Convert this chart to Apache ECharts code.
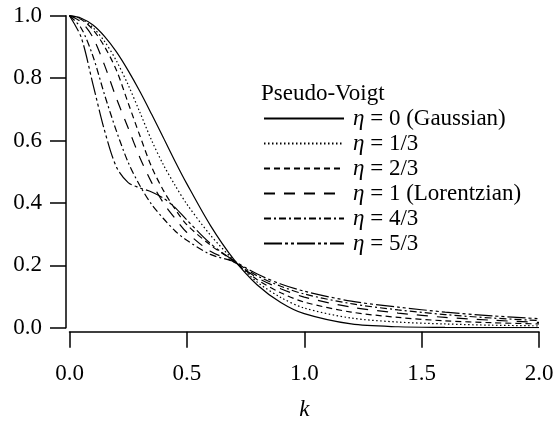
<!DOCTYPE html>
<html>
<head>
<meta charset="utf-8">
<script src="https://cdn.jsdelivr.net/npm/echarts@6/dist/echarts.min.js"></script>
<style>
  html, body { margin: 0; padding: 0; background: #fff; }
  #chart { width: 555px; height: 421px; }
</style>
</head>
<body>
<div id="chart"></div>
<script>
// k positions
var kValues = [0, 0.05, 0.1, 0.15, 0.2, 0.25, 0.3, 0.35, 0.4, 0.45, 0.5, 0.6, 0.7, 0.8, 0.9, 1.0, 1.2, 1.4, 1.6, 1.8, 2.0];

// curve values, one array per eta
var eta0  = [1, 0.992, 0.970, 0.933, 0.884, 0.824, 0.757, 0.684, 0.609, 0.533, 0.461, 0.328, 0.219, 0.137, 0.081, 0.045, 0.012, 0.003, 0.001, 0.000, 0.000];
var eta13 = [1, 0.990, 0.962, 0.917, 0.855, 0.778, 0.690, 0.600, 0.522, 0.456, 0.396, 0.297, 0.216, 0.146, 0.097, 0.063, 0.031, 0.018, 0.012, 0.008, 0.006];
var eta23 = [1, 0.988, 0.955, 0.900, 0.825, 0.720, 0.615, 0.515, 0.440, 0.380, 0.330, 0.265, 0.213, 0.154, 0.112, 0.082, 0.050, 0.033, 0.022, 0.016, 0.012];
var eta1  = [1, 0.980, 0.930, 0.840, 0.735, 0.640, 0.545, 0.465, 0.400, 0.350, 0.305, 0.245, 0.211, 0.160, 0.125, 0.098, 0.066, 0.047, 0.033, 0.024, 0.017];
var eta43 = [1, 0.960, 0.870, 0.745, 0.630, 0.530, 0.455, 0.395, 0.350, 0.310, 0.280, 0.235, 0.211, 0.166, 0.133, 0.108, 0.077, 0.057, 0.042, 0.031, 0.023];
var eta53 = [1, 0.930, 0.780, 0.630, 0.515, 0.465, 0.448, 0.435, 0.415, 0.385, 0.345, 0.270, 0.215, 0.172, 0.140, 0.117, 0.085, 0.066, 0.050, 0.038, 0.029];

var seriesNames = ['0 (Gaussian)', '1/3', '2/3', '1 (Lorentzian)', '4/3', '5/3'];
var seriesValues = [eta0, eta13, eta23, eta1, eta43, eta53];
var dashTypes = ['solid', [1.5, 2.5], [6, 4], [11, 9], [7, 3, 2, 3], [18, 3, 3, 3, 3, 3]];

var font = 'Liberation Serif, Times New Roman, serif';
var fs = 23;

var myChart = echarts.init(document.getElementById('chart'));

var series = [];
seriesValues.forEach(function (vals, i) {
    var pts = [];
    kValues.forEach(function (k, j) {
        pts.push([k, vals[j]]);
    });
    series.push({
        name: seriesNames[i],
        type: 'line',
        data: pts,
        symbol: 'none',
        smooth: 0.3,
        lineStyle: {color: '#000', width: 1.2, type: dashTypes[i]},
        itemStyle: {color: '#000'},
        silent: true
    });
});

myChart.setOption({
    animation: false,
    grid: {left: 69.5, right: 16, top: 15.7, bottom: 93.3, outerBoundsMode: 'none'},
    title: {
        text: 'Pseudo-Voigt',
        left: 261,
        top: 82,
        padding: 0,
        textStyle: {fontFamily: font, fontSize: fs, fontWeight: 'normal', color: '#000'}
    },
    legend: {
        orient: 'vertical',
        left: 263,
        top: 107,
        padding: 0,
        itemWidth: 80,
        itemHeight: 14,
        itemGap: 2,
        selectedMode: false,
        data: seriesNames,
        itemStyle: {opacity: 0},
        formatter: function (name) {
            return '{e|η} = ' + name;
        },
        textStyle: {
            fontFamily: font, fontSize: fs, color: '#000', padding: [0, 0, 0, 4],
            rich: {
                e: {fontFamily: font, fontSize: fs, fontStyle: 'italic', color: '#000'}
            }
        }
    },
    xAxis: {
        type: 'value',
        min: 0,
        max: 2,
        interval: 0.5,
        offset: 4,
        name: 'k',
        nameLocation: 'middle',
        nameGap: 67,
        nameTextStyle: {fontFamily: font, fontSize: fs, fontStyle: 'italic', color: '#000'},
        axisLine: {show: true, onZero: false, lineStyle: {color: '#000', width: 1.5}},
        axisTick: {show: true, inside: false, length: 16, lineStyle: {color: '#000', width: 1.5}},
        axisLabel: {
            margin: 31,
            fontFamily: font, fontSize: fs, color: '#000',
            formatter: function (v) { return v.toFixed(1); }
        },
        splitLine: {show: false}
    },
    yAxis: {
        type: 'value',
        min: 0,
        max: 1,
        interval: 0.2,
        offset: 3.5,
        axisLine: {show: true, onZero: false, lineStyle: {color: '#000', width: 1.5}},
        axisTick: {show: true, inside: false, length: 16, lineStyle: {color: '#000', width: 1.5}},
        axisLabel: {
            margin: 24,
            fontFamily: font, fontSize: fs, color: '#000',
            formatter: function (v) { return v.toFixed(1); }
        },
        splitLine: {show: false}
    },
    series: series
});
</script>
</body>
</html>
